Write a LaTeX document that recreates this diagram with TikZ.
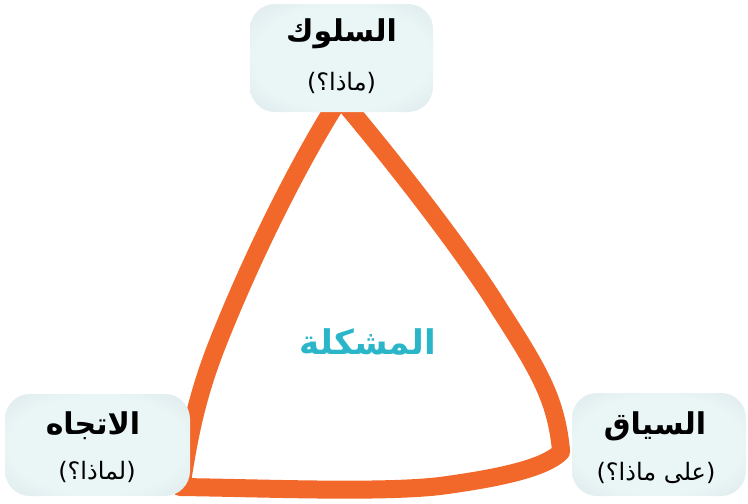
\documentclass[tikz,border=0pt]{standalone}
\usepackage{fontspec}
\newfontfamily\arabicfont[Script=Arabic]{DejaVu Sans}
\TeXXeTstate=1
\definecolor{trior}{RGB}{242,104,42}
\definecolor{tealtxt}{RGB}{42,182,200}
\definecolor{boxA}{RGB}{234,245,246}
\definecolor{boxB}{RGB}{210,223,225}
\definecolor{boxC}{RGB}{170,186,190}
\pgfdeclareradialshading{boxshade}{\pgfpoint{0bp}{0bp}}{color(0bp)=(boxA); color(24bp)=(boxA); color(46bp)=(boxB); color(70bp)=(boxC)}
\tikzset{
  stroke/.style={line width=18pt, draw=trior, line join=round, line cap=round},
  pbox/.style={rectangle, rounded corners=25pt, shading=boxshade, draw=none, inner sep=0pt},
  ttl/.style={font=\arabicfont\bfseries\fontsize{30}{34}\selectfont, text=black, inner sep=0pt},
  sub/.style={font=\arabicfont\fontsize{24}{28}\selectfont, text=black, inner sep=0pt},
  ctr/.style={font=\arabicfont\bfseries\fontsize{34}{40}\selectfont, text=tealtxt, inner sep=0pt}
}
\begin{document}
\begin{tikzpicture}[x=1pt,y=-1pt]
\useasboundingbox (0,0) rectangle (748,504);
% triangle stroke
\draw[stroke] (340,98) .. controls (300,160) and (250,260) .. (215,350)
  .. controls (198,395) and (190,430) .. (182,482)
  -- (180,487) .. controls (260,488) and (380,493) .. (440,486)
  .. controls (500,478) and (545,468) .. (561,452)
  -- (561,450) .. controls (556,400) and (540,372) .. (500,310)
  .. controls (460,245) and (380,145) .. (340,98);
% boxes
\node[pbox, minimum width=183pt, minimum height=108pt] (bTop) at (341.5,58) {};
\node[pbox, minimum width=185pt, minimum height=102pt] (bLeft) at (97.5,445) {};
\node[pbox, minimum width=174pt, minimum height=103pt] (bRight) at (659,444.5) {};
% texts
\node[ttl] (tTop) at (341.5,34) {\beginR السلوك\endR};
\node[sub] (sTop) at (341.5,83) {\hbox{)}\beginR ماذا؟\endR\hbox{(}};
\node[ttl] (tLeft) at (93,426) {\beginR الاتجاه\endR};
\node[sub] (sLeft) at (97,472) {\hbox{)}\beginR لماذا؟\endR\hbox{(}};
\node[ttl] (tRight) at (655,426) {\beginR السياق\endR};
\node[sub] (sRight) at (656,473) {\hbox{)}\beginR على ماذا؟\endR\hbox{(}};
\node[ctr] (center) at (368,342) {\beginR المشكلة\endR};
\end{tikzpicture}
\end{document}
